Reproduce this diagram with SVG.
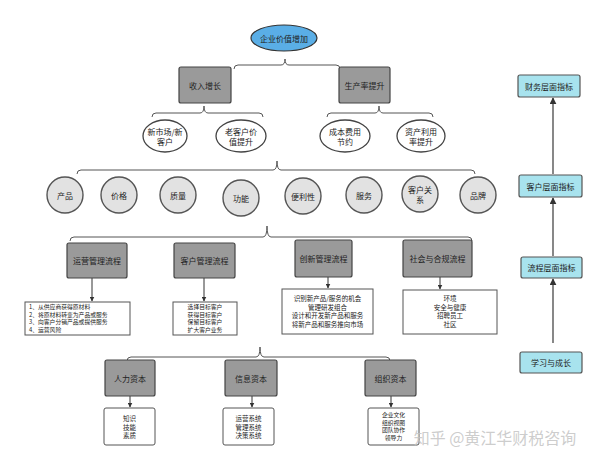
<svg xmlns="http://www.w3.org/2000/svg" width="600" height="462" viewBox="0 0 600 462">
<defs>
<marker id="ah" viewBox="0 0 10 10" refX="9" refY="5" markerWidth="5" markerHeight="5" orient="auto"><path d="M0,0 L10,5 L0,10 z" fill="#333"/></marker>
<style>
text{font-family:"Noto Sans CJK SC","Noto Sans",sans-serif;fill:#222;text-anchor:middle;dominant-baseline:central}
.g{fill:#9a9a9a;stroke:#444;stroke-width:1.2}
.w{fill:#fff;stroke:#555;stroke-width:1}
.c{fill:#e2e2e2;stroke:#555;stroke-width:1.4}
.e{fill:#fff;stroke:#444;stroke-width:1.3}
.b{fill:#a8e3ee;stroke:#555;stroke-width:1.2}
.m{font-size:8px}
.s{font-size:6.5px}
.t{font-size:5.8px}
.br{fill:none;stroke:#555;stroke-width:1}
.ar{fill:none;stroke:#333;stroke-width:1;marker-end:url(#ah)}
.ar2{fill:none;stroke:#555;stroke-width:1.4;marker-end:url(#ah)}
</style>
</defs>
<rect width="600" height="462" fill="#fff"/>

<g id="connectors">
<path class="br" d="M234,69 Q234,65 238,65 L281,65 Q285,65 285,59 Q285,65 289,65 L336,65 Q340,65 340,69"/>
<path class="br" d="M152,117 Q152,113 156,113 L200,113 Q204,113 204,106 Q204,113 208,113 L259,113 Q263,113 263,117"/>
<path class="br" d="M327,117 Q327,113 331,113 L375,113 Q379,113 379,106 Q379,113 383,113 L429,113 Q433,113 433,117"/>
<path class="br" d="M77,174 Q77,170 81,170 L273,170 Q277,170 277,161 Q277,170 281,170 L471,170 Q475,170 475,174"/>
<path class="br" d="M70,241 Q70,237 74,237 L263,237 Q267,237 267,226 Q267,237 271,237 L468,237 Q472,237 472,241"/>
<path class="br" d="M127,361 Q127,357 131,357 L256,357 Q260,357 260,347 Q260,357 264,357 L386,357 Q390,357 390,361"/>
<line class="ar" x1="92" y1="278" x2="92" y2="301"/>
<line class="ar" x1="204" y1="278" x2="204" y2="301"/>
<line class="ar" x1="328" y1="277" x2="328" y2="288"/>
<line class="ar" x1="440" y1="277" x2="440" y2="289"/>
<line class="ar" x1="130" y1="396" x2="130" y2="407"/>
<line class="ar" x1="252" y1="396" x2="252" y2="407"/>
<line class="ar" x1="391" y1="396" x2="391" y2="407"/>
<line class="ar2" x1="553" y1="343" x2="553" y2="279"/>
<line class="ar2" x1="553" y1="256" x2="553" y2="198"/>
<line class="ar2" x1="553" y1="174" x2="553" y2="98"/>
</g>

<g id="root"><ellipse cx="284" cy="38" rx="33" ry="13" fill="#5aaee6" stroke="#333" stroke-width="1.2"/><text class="m" x="284" y="38">企业价值增加</text></g>

<g id="revenue"><rect class="g" x="179" y="67" width="52" height="36" rx="2"/><text class="m" x="205" y="85">收入增长</text></g>
<g id="productivity"><rect class="g" x="339" y="67" width="51" height="36" rx="2"/><text class="m" x="364.5" y="85">生产率提升</text></g>

<g id="e1"><ellipse class="e" cx="165" cy="136" rx="22" ry="16"/><text class="m" x="165" y="131">新市场/新</text><text class="m" x="165" y="141">客户</text></g>
<g id="e2"><ellipse class="e" cx="241" cy="136" rx="25" ry="16"/><text class="m" x="241" y="131">老客户价</text><text class="m" x="241" y="141">值提升</text></g>
<g id="e3"><ellipse class="e" cx="345" cy="136" rx="25" ry="16"/><text class="m" x="345" y="131">成本费用</text><text class="m" x="345" y="141">节约</text></g>
<g id="e4"><ellipse class="e" cx="421" cy="136" rx="24" ry="16"/><text class="m" x="421" y="131">资产利用</text><text class="m" x="421" y="141">率提升</text></g>

<g id="c1"><circle class="c" cx="65" cy="195" r="18"/><text class="m" x="65" y="195">产品</text></g>
<g id="c2"><circle class="c" cx="119" cy="195" r="18"/><text class="m" x="119" y="195">价格</text></g>
<g id="c3"><circle class="c" cx="178" cy="195" r="18"/><text class="m" x="178" y="195">质量</text></g>
<g id="c4"><circle class="c" cx="241" cy="198" r="18"/><text class="m" x="241" y="198">功能</text></g>
<g id="c5"><circle class="c" cx="303" cy="196" r="18"/><text class="m" x="303" y="196">便利性</text></g>
<g id="c6"><circle class="c" cx="364" cy="195" r="18"/><text class="m" x="364" y="195">服务</text></g>
<g id="c7"><circle class="c" cx="420" cy="194" r="18"/><text class="m" x="420" y="189">客户关</text><text class="m" x="420" y="199">系</text></g>
<g id="c8"><circle class="c" cx="478" cy="195" r="18"/><text class="m" x="478" y="195">品牌</text></g>

<g id="p1"><rect class="g" x="67" y="243" width="60" height="35" rx="2"/><text class="m" x="97" y="260.5">运营管理流程</text></g>
<g id="p2"><rect class="g" x="174" y="243" width="61" height="35" rx="2"/><text class="m" x="204.5" y="260.5">客户管理流程</text></g>
<g id="p3"><rect class="g" x="295" y="240" width="57" height="37" rx="2"/><text class="m" x="323.5" y="258.5">创新管理流程</text></g>
<g id="p4"><rect class="g" x="403" y="240" width="69" height="37" rx="2"/><text class="m" x="437.5" y="258.5">社会与合规流程</text></g>

<g id="d1"><rect class="w" x="25" y="302" width="105" height="33"/>
<text class="t" x="29" y="306.5" style="text-anchor:start">1、从供应商获得原材料</text>
<text class="t" x="29" y="314.2" style="text-anchor:start">2、将原材料转变为产品或服务</text>
<text class="t" x="29" y="321.9" style="text-anchor:start">3、向客户分销产品或提供服务</text>
<text class="t" x="29" y="329.6" style="text-anchor:start">4、运营风险</text></g>
<g id="d2"><rect class="w" x="173" y="302" width="64" height="33"/>
<text class="t" x="205" y="306.5">选择目标客户</text>
<text class="t" x="205" y="314.2">获得目标客户</text>
<text class="t" x="205" y="321.9">保留目标客户</text>
<text class="t" x="205" y="329.6">扩大客户业务</text></g>
<g id="d3"><rect class="w" x="282" y="289" width="91" height="45"/>
<text class="s" x="327.5" y="298">识别新产品/服务的机会</text>
<text class="s" x="327.5" y="306.5">管理研发组合</text>
<text class="s" x="327.5" y="315">设计和开发新产品和服务</text>
<text class="s" x="327.5" y="323.5">将新产品和服务推向市场</text></g>
<g id="d4"><rect class="w" x="403" y="290" width="94" height="44"/>
<text class="s" x="450" y="298">环境</text>
<text class="s" x="450" y="306.5">安全与健康</text>
<text class="s" x="450" y="315">招聘员工</text>
<text class="s" x="450" y="323.5">社区</text></g>

<g id="k1"><rect class="g" x="105" y="360" width="50" height="36" rx="2"/><text class="m" x="130" y="378">人力资本</text></g>
<g id="k2"><rect class="g" x="225" y="360" width="52" height="36" rx="2"/><text class="m" x="251" y="378">信息资本</text></g>
<g id="k3"><rect class="g" x="365" y="360" width="51" height="36" rx="2"/><text class="m" x="390.5" y="378">组织资本</text></g>

<g id="kd1"><rect class="w" x="104" y="408" width="51" height="37" rx="2"/>
<text class="s" x="129.5" y="418">知识</text><text class="s" x="129.5" y="426.5">技能</text><text class="s" x="129.5" y="435">素质</text></g>
<g id="kd2"><rect class="w" x="223" y="408" width="51" height="37" rx="2"/>
<text class="s" x="248.5" y="418">运营系统</text><text class="s" x="248.5" y="426.5">管理系统</text><text class="s" x="248.5" y="435">决策系统</text></g>
<g id="kd3"><rect class="w" x="368" y="408" width="51" height="37" rx="2"/>
<text class="t" x="393.5" y="414.5">企业文化</text><text class="t" x="393.5" y="422.2">组织视图</text><text class="t" x="393.5" y="429.9">团队协作</text><text class="t" x="393.5" y="437.6">领导力</text></g>

<g id="r1"><rect class="b" x="518" y="75" width="62" height="22" rx="2"/><text class="m" x="549" y="86">财务层面指标</text></g>
<g id="r2"><rect class="b" x="519" y="175" width="63" height="22" rx="2"/><text class="m" x="550.5" y="186">客户层面指标</text></g>
<g id="r3"><rect class="b" x="521" y="257" width="61" height="21" rx="2"/><text class="m" x="551.5" y="267.5">流程层面指标</text></g>
<g id="r4"><rect class="b" x="520" y="352" width="62" height="21" rx="2"/><text class="m" x="551" y="362.5">学习与成长</text></g>

<text x="495" y="437" style="font-size:16px;fill:#c4c4c4;fill-opacity:0.85">知乎 @黄江华财税咨询</text>
</svg>
